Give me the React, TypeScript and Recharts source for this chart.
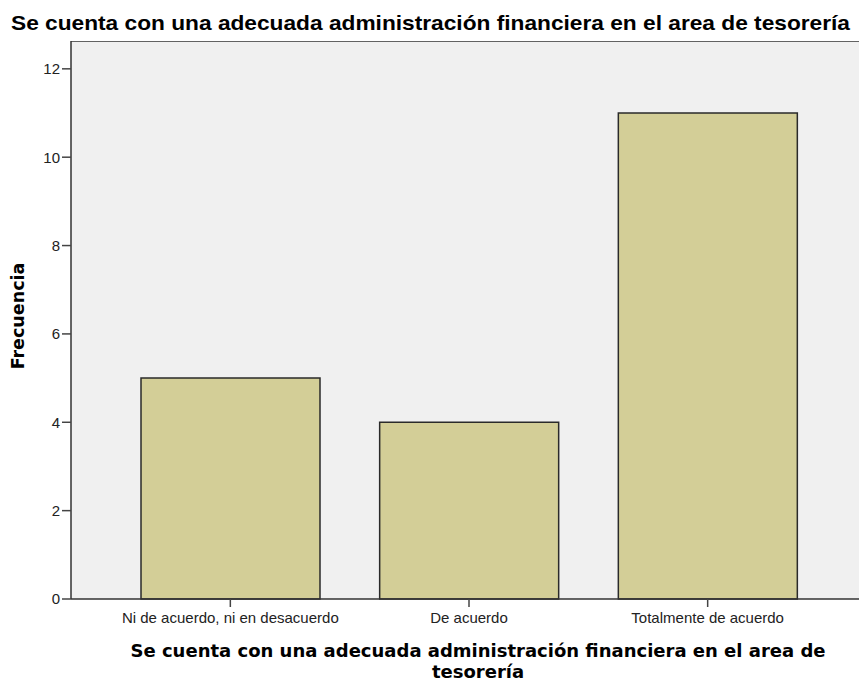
import { BarChart, Bar, XAxis, YAxis, CartesianGrid, ReferenceLine } from "recharts";

const categories = ["Ni de acuerdo, ni en desacuerdo", "De acuerdo", "Totalmente de acuerdo"];
const frecuencias = [5, 4, 11];
const yTicks = [0, 2, 4, 6, 8, 10, 12];

const titulo = "Se cuenta con una adecuada administración financiera en el area de tesorería";
const yMax = 12.63;

const data = categories.map((name, i) => ({ name, value: frecuencias[i] }));

const tickFont = { fill: "#222", fontSize: 15, fontFamily: "Liberation Sans, Arial, sans-serif" };

const App = () => {
  return (
    <div style={{ position: "relative", width: 859, height: 681, background: "#fff" }}>
      <style>{`body{margin:0}`}</style>
      <svg width={859} height={40} style={{ position: "absolute", left: 0, top: 0 }}>
        <text
          x={11}
          y={30}
          textLength={839}
          lengthAdjust="spacingAndGlyphs"
          style={{ fontFamily: "Liberation Sans, Arial, sans-serif", fontSize: 21, fontWeight: "bold", fill: "#000" }}
        >
          {titulo}
        </text>
      </svg>
      <div style={{ position: "absolute", left: 0, top: 41 }}>
        <BarChart width={859} height={640} data={data} margin={{ top: 0, right: 0, left: 0, bottom: 0 }}>
          <CartesianGrid fill="#F0F0F0" horizontal={false} vertical={false} />
          <XAxis
            dataKey="name"
            height={82}
            padding={{ left: 40, right: 32 }}
            tickSize={8}
            tickMargin={5}
            stroke="#333"
            strokeWidth={1.5}
            tick={tickFont}
            tickLine={{ stroke: "#444", strokeWidth: 1.5 }}
          />
          <YAxis
            width={71}
            domain={[0, yMax]}
            ticks={yTicks}
            tickSize={9}
            tickMargin={2}
            stroke="#333"
            strokeWidth={1.5}
            tick={tickFont}
            tickLine={{ stroke: "#444", strokeWidth: 1.5 }}
          />
          <ReferenceLine y={yMax} stroke="#333" strokeWidth={1.5} />
          <Bar dataKey="value" fill="#D3CE97" stroke="#2a2a2a" strokeWidth={1.5} barSize={179} isAnimationActive={false} />
        </BarChart>
      </div>
      <div
        style={{
          position: "absolute",
          left: 18,
          top: 316,
          transform: "translate(-50%, -50%) rotate(-90deg)",
          fontFamily: "DejaVu Sans, sans-serif",
          fontWeight: "bold",
          fontSize: 17.5,
          whiteSpace: "nowrap",
        }}
      >
        Frecuencia
      </div>
      <div
        style={{
          position: "absolute",
          left: 78,
          top: 640,
          width: 800,
          textAlign: "center",
          fontFamily: "DejaVu Sans, sans-serif",
          fontWeight: "bold",
          fontSize: 18,
          lineHeight: "21px",
        }}
      >
        Se cuenta con una adecuada administración financiera en el area de
        <br />
        tesorería
      </div>
    </div>
  );
};

export default App;
